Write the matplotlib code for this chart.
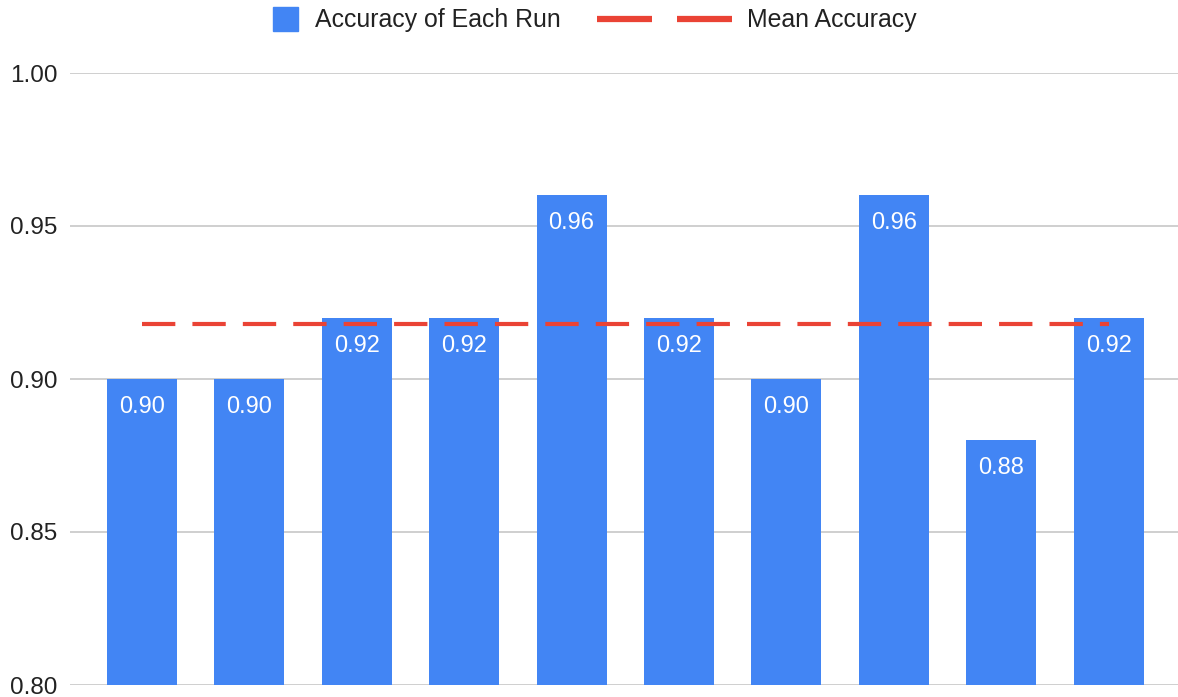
import matplotlib
matplotlib.use("Agg")
import matplotlib.pyplot as plt
from matplotlib.patches import Rectangle
from matplotlib.lines import Line2D

# Accuracy of each of the ten runs
runs = list(range(1, 11))
accuracy = [0.90, 0.90, 0.92, 0.92, 0.96, 0.92, 0.90, 0.96, 0.88, 0.92]
y_ticks = [0.80, 0.85, 0.90, 0.95, 1.00]
bar_label = "Accuracy of Each Run"
mean_label = "Mean Accuracy"

mean_acc = sum(accuracy) / len(accuracy)

BLUE = "#4285F4"
RED = "#EA4335"
GRID = "#CCCCCC"
TEXT = "#222222"

plt.rcParams["font.family"] = ["Liberation Sans", "DejaVu Sans"]

W, H = 1178, 697
fig = plt.figure(figsize=(W / 100, H / 100), dpi=100)
ax = fig.add_axes([70 / W, 12 / H, 1 - 70 / W, (685 - 73) / H])

x = list(range(len(runs)))
bars = ax.bar(x, accuracy, width=0.65, color=BLUE, zorder=2)

# mean line from the first to the last bar centre
ax.plot([x[0], x[-1]], [mean_acc, mean_acc], color=RED, lw=3.0,
        dashes=(8.0, 4.1), solid_capstyle="butt", dash_capstyle="butt", zorder=3)

for xi, v in zip(x, accuracy):
    ax.annotate(f"{v:.2f}", (xi, v), xytext=(0, -20), textcoords="offset points",
                ha="center", va="center", color="white", fontsize=17, zorder=4)

ax.set_ylim(0.80, 1.00)
ax.set_xlim((70 - 142) / 107.4, (1178 - 142) / 107.4)
ax.set_yticks(y_ticks)
ax.set_yticklabels([f"{t:.2f}" for t in y_ticks])
ax.set_xticks([])
ax.tick_params(axis="y", length=0, pad=9, labelsize=17.5, labelcolor=TEXT)
ax.yaxis.grid(True, color=GRID, lw=1.3, zorder=0)
ax.set_axisbelow(True)
for s in ax.spines.values():
    s.set_visible(False)

# legend across the top
def fx(px):
    return px / W

def fy(py):
    return 1 - py / H

ly = 19
fig.patches.append(Rectangle((fx(273), fy(ly + 12)), 25 / W, 24 / H,
                             transform=fig.transFigure, color=BLUE))
fig.text(fx(315), fy(ly + 1), bar_label, ha="left", va="center",
         fontsize=17.9, color=TEXT)
for a, b in [(597, 652), (677, 732)]:
    fig.lines.append(Line2D([fx(a), fx(b)], [fy(ly), fy(ly)],
                            transform=fig.transFigure, color=RED, lw=4.5,
                            solid_capstyle="butt"))
fig.text(fx(747), fy(ly + 1), mean_label, ha="left", va="center",
         fontsize=17.9, color=TEXT)

fig.savefig("out.png", dpi=100)
